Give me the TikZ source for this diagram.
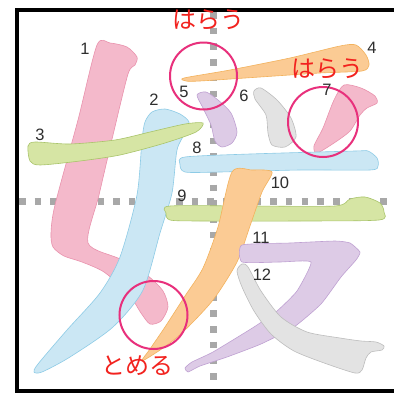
\documentclass[tikz,border=0pt]{standalone}
\usepackage{fontspec}
\setsansfont{Liberation Sans}
\newfontfamily\jpfont{Noto Sans CJK JP}
\definecolor{pk}{HTML}{F4B9CB}\definecolor{pkd}{HTML}{E992AD}
\definecolor{bl}{HTML}{CBE7F4}\definecolor{bld}{HTML}{8DCBE6}
\definecolor{gr}{HTML}{D6E5A4}\definecolor{grd}{HTML}{A9C46A}
\definecolor{orx}{HTML}{FBCB94}\definecolor{ord}{HTML}{F3B25C}
\definecolor{pu}{HTML}{DDCBE6}\definecolor{pud}{HTML}{BFA1D2}
\definecolor{gy}{HTML}{E3E3E3}\definecolor{gyd}{HTML}{BDBDBD}
\definecolor{ring}{HTML}{E8307C}
\definecolor{redtxt}{HTML}{F2221E}
\definecolor{numc}{HTML}{2E2E2E}
\definecolor{gridc}{HTML}{A8A8A8}
\tikzset{
  pinkst/.style={fill=pk, draw=pkd, line width=0.6pt},
  bluest/.style={fill=bl, draw=bld, line width=0.6pt},
  greenst/.style={fill=gr, draw=grd, line width=0.6pt},
  orangest/.style={fill=orx, draw=ord, line width=0.6pt},
  purplest/.style={fill=pu, draw=pud, line width=0.6pt},
  grayst/.style={fill=gy, draw=gyd, line width=0.6pt},
  gridline/.style={draw=gridc, line width=6.5pt, dash pattern=on 6.5pt off 9.2pt},
  ringc/.style={circle, draw=ring, line width=2pt, inner sep=0pt},
  numlab/.style={font=\sffamily\fontsize{16.5}{16.5}\selectfont, text=numc, inner sep=0pt},
  redlab/.style={font=\jpfont\fontsize{24}{24}\selectfont, text=redtxt, inner sep=0pt},
  sm/.style={smooth cycle, tension=0.45}
}
\begin{document}
\begin{tikzpicture}[x=1pt,y=-1pt]
\useasboundingbox (0,0) rectangle (394,394);
\fill[white] (0,0) rectangle (394,394);
% grid
\draw[gridline] (19,201.5) -- (394,201.5);
\draw[gridline] (213.5,12) -- (213.5,389);
% frame
\draw[line width=4pt] (394,10) -- (17,10) -- (17,391) -- (394,391);
% stroke 1
\draw[pinkst] plot[sm] coordinates {(97,45) (110,43) (127,47) (137,57) (135,65) (128,74) (113,135) (99,195) (88,243) (120,259) (148,276) (163,291) (168,307) (161,321) (150,324) (141,313) (128,293) (104,272) (82,262) (64,256) (53,247) (51,233) (55,205) (78,120)};
% stroke 2
\draw[bluest] plot[sm] coordinates {(145,122) (152,112) (165,109) (180,114) (189,122) (185,133) (177,150) (172,193) (160,233) (143,290) (113,327) (70,357) (42,372) (34,372) (38,364) (67,330) (100,293) (120,257) (137,195) (142,140)};
% stroke 3
\draw[greenst] plot[sm] coordinates {(28,146) (35,142) (70,144) (115,140) (150,132) (185,124) (203,123) (196,132) (165,143) (120,155) (80,161) (40,165) (30,161)};
% stroke 4
\draw[orangest] plot[sm] coordinates {(184,78) (230,70) (290,58) (340,46) (356,45) (366,55) (369,65) (362,71) (320,73) (260,77) (200,81) (186,81)};
% stroke 5
\draw[purplest] plot[sm] coordinates {(197,95) (206,92) (218,100) (231,113) (237,132) (232,143) (222,147) (215,141) (211,125) (203,108)};
% stroke 6
\draw[grayst] plot[sm] coordinates {(254,91) (261,88) (277,100) (291,118) (296,137) (285,147) (272,145) (268,133) (266,115) (255,99)};
% stroke 7
\draw[pinkst] plot[sm] coordinates {(344,85) (361,88) (375,96) (377,103) (367,108) (360,115) (350,131) (334,143) (317,153) (314,146) (323,128) (334,100)};
% stroke 8
\draw[bluest] plot[sm] coordinates {(180,164) (185,157) (250,154) (355,151) (368,151) (377,158) (378,166) (370,170) (300,170) (220,172) (185,172)};
% stroke 9
\draw[greenst] plot[sm] coordinates {(166,213) (170,206) (250,206) (335,206) (350,199) (365,197) (380,203) (384,212) (379,220) (300,221) (200,221) (170,220)};
% stroke 10
\draw[orangest] plot[sm] coordinates {(232,172) (252,170) (272,172) (262,192) (250,226) (237,262) (213,300) (183,332) (163,348) (142,361) (150,349) (165,327) (185,296) (203,268) (218,227)};
% stroke 11
\draw[purplest] plot[smooth cycle, tension=0.3] coordinates {(242,245) (290,243) (335,241) (350,243) (360,252) (356,260) (341,277) (321,304) (294,327) (261,344) (227,357) (200,366) (188,372) (185,368) (192,362) (213,352) (254,327) (277,311) (297,291) (311,262) (280,262) (242,262)};
% stroke 12
\draw[grayst] plot[sm] coordinates {(242,264) (248,267) (261,291) (281,317) (307,332) (340,338) (361,341) (376,342) (384,346) (382,350) (371,352) (366,358) (362,370) (355,373) (327,364) (294,351) (271,334) (254,311) (242,287) (237,271)};
% rings
\node[ringc, minimum size=67pt] (c1) at (203.5,76) {};
\node[ringc, minimum size=70pt] (c2) at (323,122) {};
\node[ringc, minimum size=68pt] (c3) at (153.5,315) {};
% red labels
\node[redlab] (t1) at (208,20) {はらう};
\node[redlab] (t2) at (327,69) {はらう};
\node[redlab] (t3) at (137,366) {とめる};
% numbers
\node[numlab] (n1) at (85,49) {1};
\node[numlab] (n2) at (154,100) {2};
\node[numlab] (n3) at (40,135) {3};
\node[numlab] (n4) at (372,48) {4};
\node[numlab] (n5) at (184,92) {5};
\node[numlab] (n6) at (244,96) {6};
\node[numlab] (n7) at (327,90) {7};
\node[numlab] (n8) at (197,148) {8};
\node[numlab] (n9) at (182,196) {9};
\node[numlab] (n10) at (280,183) {10};
\node[numlab] (n11) at (261,238) {11};
\node[numlab] (n12) at (262,275) {12};
\end{tikzpicture}
\end{document}
